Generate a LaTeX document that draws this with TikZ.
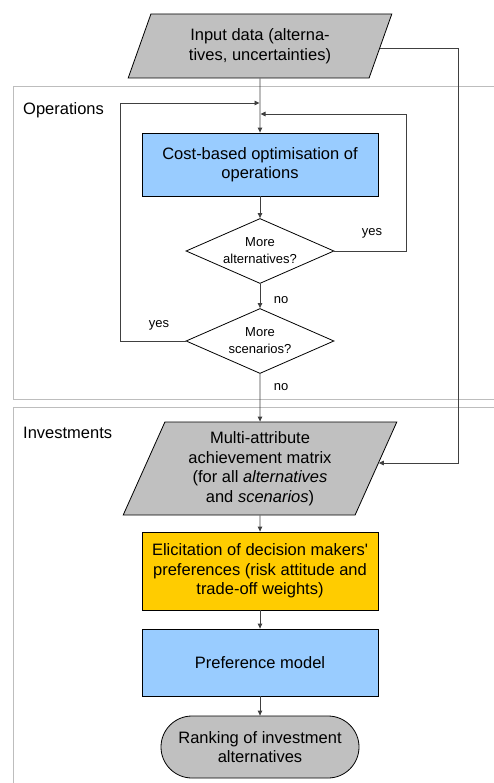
\documentclass[tikz,border=0pt]{standalone}
\usepackage{fontspec}
\setmainfont{Liberation Sans}
\usetikzlibrary{shapes.geometric,arrows.meta}
\definecolor{boxblue}{HTML}{99CCFF}
\definecolor{boxgold}{HTML}{FFCC00}
\definecolor{boxgrey}{HTML}{C0C0C0}
\definecolor{framegrey}{HTML}{BDBDBD}
\definecolor{linegrey}{HTML}{404040}
\begin{document}
\begin{tikzpicture}[x=1pt,y=-1pt,
  every node/.style={font=\fontsize{16.5}{19.5}\selectfont, align=center, inner sep=0pt},
  procbox/.style={rectangle, draw=black, line width=0.8pt, minimum width=236pt},
  databox/.style={trapezium, trapezium left angle=67, trapezium right angle=113,
    trapezium stretches=true, draw=black, line width=0.8pt, fill=boxgrey},
  decision/.style={diamond, draw=black, line width=0.8pt, fill=white,
    minimum width=148pt, minimum height=65pt, aspect=2.28,
    font=\fontsize{13}{17}\selectfont},
  terminal/.style={rectangle, rounded corners=31pt, draw=black, line width=0.8pt,
    fill=boxgrey, minimum width=198pt, minimum height=62pt},
  small/.style={font=\fontsize{13}{16}\selectfont},
  frame/.style={draw=framegrey, line width=1pt},
  flow/.style={draw=linegrey, line width=0.9pt, -{Triangle[length=5pt,width=4.5pt]}}]
\useasboundingbox (0,0) rectangle (494,783);

% section frames
\draw[frame] (500,87) -- (13,87) -- (13,399) -- (500,399);
\draw[frame] (500,407) -- (13,407) -- (13,790);
\node[anchor=west] (oplabel) at (23,110) {Operations};
\node[anchor=west] (invlabel) at (23,433) {Investments};

% flowchart nodes
\node[databox, minimum width=264pt, minimum height=64pt] (input) at (260,46)
  {Input data (alterna-\\tives, uncertainties)};
\node[procbox, fill=boxblue, minimum height=63pt] (cost) at (260,164.5)
  {Cost-based optimisation of\\operations};
\node[decision] (alt) at (260,251) {More\\alternatives?};
\node[decision] (scen) at (260,341) {More\\scenarios?};
\node[databox, minimum width=274pt, minimum height=93pt] (matrix) at (260,468.5)
  {Multi-attribute\\achievement matrix\\(for all \textit{alternatives}\\and \textit{scenarios})};
\node[procbox, fill=boxgold, minimum height=78pt] (elic) at (260,571)
  {Elicitation of decision makers\textquotesingle\\preferences (risk attitude and\\trade-off weights)};
\node[procbox, fill=boxblue, minimum height=67pt] (pref) at (260,662.5)
  {Preference model};
\node[terminal] (rank) at (260,747) {Ranking of investment\\alternatives};

% loop junctions and bends
\coordinate (joinL) at (259.5,103);
\coordinate (joinR) at (260.5,114);
\coordinate (bendR) at (406,0);
\coordinate (bendL) at (120,0);
\coordinate (bendIn) at (458,0);
\coordinate (inStart) at ([yshift=-2pt,xshift=-1pt]input.east);
\coordinate (inEnd) at ([yshift=5.5pt,xshift=2.4pt]matrix.east);

% connectors
\draw[flow] (input.south) -- (cost.north);
\draw[flow] (cost.south) -- (alt.north);
\draw[flow] (alt.south) -- (scen.north);
\draw[flow] (scen.south) -- (matrix.north);
\draw[flow] (matrix.south) -- (elic.north);
\draw[flow] (elic.south) -- (pref.north);
\draw[flow] (pref.south) -- (rank.north);
\draw[flow] (alt.east) -- (alt.east -| bendR) -- (bendR |- joinR) -- (joinR);
\draw[flow] (scen.west) -- (scen.west -| bendL) -- (bendL |- joinL) -- (joinL);
\draw[flow] (inStart) -- (inStart -| bendIn) -- (bendIn |- inEnd) -- (inEnd);

% branch labels
\node[small] (yesA) at (372,233) {yes};
\node[small] (noA) at (281,300) {no};
\node[small] (yesS) at (159,325) {yes};
\node[small] (noS) at (281,387) {no};
\end{tikzpicture}
\end{document}
